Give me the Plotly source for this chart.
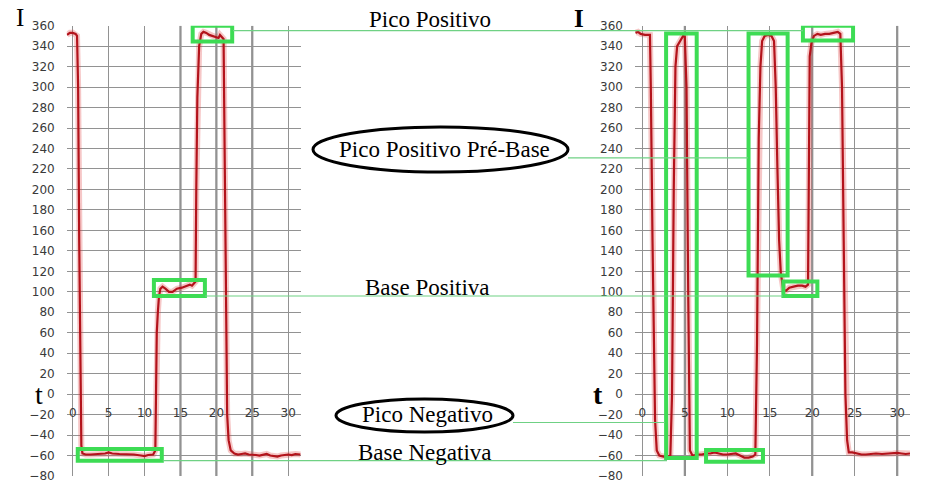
import plotly.graph_objects as go

W, H = 926, 485

# ---------------- data ----------------
left_t = [-0.8, -0.4, 0.0, 0.4, 0.6, 0.75, 0.9, 1.05, 1.2, 1.35, 1.8, 2.5, 3.5, 4.5, 5.0, 5.5, 6.5,
          7.5, 8.5, 9.5, 10.0, 10.5, 11.2, 11.5, 11.6, 11.7, 11.85, 12.0, 12.2, 12.5, 12.9, 13.4,
          13.9, 14.5, 15.2, 15.8, 16.3, 16.6, 16.9, 17.1, 17.2, 17.35, 17.6, 17.9, 18.2, 18.6, 19.0,
          19.5, 20.0, 20.3, 20.5, 20.8, 21.0, 21.2, 21.35, 21.5, 21.7, 22.0, 22.5, 23.0, 23.5, 24.0,
          24.5, 25.0, 25.5, 26.0, 26.5, 27.0, 27.5, 28.0, 28.5, 29.0, 29.5, 30.0, 30.5, 31.0, 31.7]
left_i = [351, 353, 353, 352, 350, 300, 150, 0, -50, -58, -59, -59, -58.5, -58, -57, -58, -58.5,
          -58.5, -59, -60, -60.5, -59.5, -59, -55, 0, 60, 80, 95, 103, 105, 103, 100,
          100, 103, 104, 106, 107, 106, 109, 110, 200, 290, 340, 352, 354, 353, 351,
          350, 349, 348, 351, 349, 347, 200, 50, -20, -45, -55, -58, -59, -58.5, -58,
          -59, -59, -59.5, -60, -59, -58.5, -60, -60.5, -61, -60, -59.5, -59, -59.5, -58.5, -59]

right_t = [-0.8, -0.5, -0.2, 0.3, 0.9, 1.0, 1.2, 1.4, 1.5, 1.7, 2.0, 2.5, 3.0, 3.3, 3.5, 3.7, 3.9,
           4.1, 4.5, 4.8, 5.0, 5.2, 5.4, 5.5, 5.6, 5.9, 6.5, 7.0, 7.5, 8.0, 8.5, 9.0, 9.5, 10.0,
           10.5, 11.0, 11.5, 12.0, 12.5, 13.0, 13.3, 13.5, 13.7, 13.9, 14.1, 14.4, 14.8, 15.2,
           15.5, 15.7, 15.9, 16.1, 16.3, 16.6, 16.9, 17.3, 17.8, 18.3, 18.8, 19.2, 19.5, 19.6,
           19.7, 19.9, 20.2, 20.6, 21.0, 21.5, 22.0, 22.5, 23.0, 23.3, 23.5, 23.7, 23.9, 24.1,
           24.3, 24.7, 25.2, 25.8, 26.3, 26.8, 27.5, 28.2, 28.8, 29.5, 30.0, 30.5, 31.0, 31.5]
right_i = [353, 354, 352, 351, 351, 300, 150, 0, -25, -55, -60, -61, -61, -60, 0, 200, 320,
           340, 346, 350, 349, 300, 100, -20, -55, -60, -59, -59, -58, -58, -57, -58, -59, -59,
           -58.5, -58, -60, -62, -62, -61, -59, 50, 250, 320, 345, 350, 351, 350,
           345, 300, 220, 150, 118, 102, 101, 104, 105, 106, 106, 105, 107, 200,
           330, 343, 350, 352, 351, 352, 352, 353, 354, 352, 300, 150, 0, -45,
           -57, -57, -58, -59, -59, -58.5, -58, -58.5, -58, -58, -57.5, -58, -58.5, -58]

x_ticks = [0, 5, 10, 15, 20, 25, 30]
y_ticks = list(range(-80, 361, 20))

# green boxes: (x0, x1, y0, y1) in data units
left_boxes = [(16.7, 22.2, 344.5, 360), (11.3, 18.4, 96, 111.5), (0.7, 12.4, -65, -53.5)]
right_boxes = [(18.9, 24.8, 345.5, 360), (2.8, 6.4, -62.5, 352.5), (12.5, 17.1, 116, 352.5),
               (16.6, 20.6, 96, 110), (7.5, 14.2, -66, -54.5)]

labels = ["Pico Positivo", "Pico Positivo Pré-Base", "Base Positiva", "Pico Negativo", "Base Negativa"]
label_levels = [355.2, 230.8, 95.9, -27.7, -65.0]

# darker grid lines seen in the reference
left_dark = [15, 20, 25]
right_dark = [5, 20, 30]

# ---------------- layout geometry ----------------
def px(x):
    return x / W

def py(y):
    return (H - y) / H

ydom = [py(476), py(25.7)]
LX = [66.7, 301]
RX = [635, 910]
lrange = [-0.84, 31.78]
rrange = [-0.86, 31.5]
y_range = [-80, 360]
zero_pos = py(394.2)

fig = go.Figure()

halo = 'rgba(225,70,70,0.30)'
core = '#b3131b'
for t, i, xa, ya in [(left_t, left_i, 'x', 'y'), (right_t, right_i, 'x2', 'y2')]:
    fig.add_trace(go.Scatter(x=t, y=i, mode='lines', line=dict(color=halo, width=6),
                             xaxis=xa, yaxis=ya, hoverinfo='skip', showlegend=False))
    fig.add_trace(go.Scatter(x=t, y=i, mode='lines', line=dict(color=core, width=2.2),
                             xaxis=xa, yaxis=ya, showlegend=False))

tickfont = dict(family='DejaVu Sans', size=12, color='#3a3a3a')
grid = dict(showgrid=True, gridcolor='#929292', gridwidth=1.3, zeroline=False,
            showline=False, tickfont=tickfont, ticks='', fixedrange=True, automargin=False)

fig.update_layout(
    width=W, height=H, margin=dict(l=0, r=0, t=0, b=0, pad=0, autoexpand=False),
    paper_bgcolor='white', plot_bgcolor='white', showlegend=False,
    xaxis=dict(domain=[px(LX[0]), px(LX[1])], range=lrange, tickvals=x_ticks,
               anchor='free', position=zero_pos, ticklabelstandoff=10, **grid),
    yaxis=dict(domain=ydom, range=y_range, tickvals=y_ticks, anchor='x',
               ticklabelstandoff=11, **grid),
    xaxis2=dict(domain=[px(RX[0]), px(RX[1])], range=rrange, tickvals=x_ticks,
                anchor='free', position=zero_pos, ticklabelstandoff=10, **grid),
    yaxis2=dict(domain=ydom, range=y_range, tickvals=y_ticks, anchor='x2',
                ticklabelstandoff=11, **grid),
)

shapes = []
for xv in left_dark:
    shapes.append(dict(type='line', xref='x', yref='y', x0=xv, x1=xv, y0=-80, y1=360,
                       line=dict(color='#737373', width=2), layer='below'))
for xv in right_dark:
    shapes.append(dict(type='line', xref='x2', yref='y2', x0=xv, x1=xv, y0=-80, y1=360,
                       line=dict(color='#737373', width=2), layer='below'))

green = '#3ddc54'
for (x0, x1, y0, y1) in left_boxes:
    shapes.append(dict(type='rect', xref='x', yref='y', x0=x0, x1=x1, y0=y0, y1=y1,
                       line=dict(color=green, width=4), layer='above'))
for (x0, x1, y0, y1) in right_boxes:
    shapes.append(dict(type='rect', xref='x2', yref='y2', x0=x0, x1=x1, y0=y0, y1=y1,
                       line=dict(color=green, width=4), layer='above'))

line_x = [(233, 803), (568, 748), (205, 783), (513, 665), (162.7, 667)]
for (a, b), lev in zip(line_x, label_levels):
    shapes.append(dict(type='line', xref='paper', yref='y', x0=px(a), x1=px(b), y0=lev, y1=lev,
                       line=dict(color='#6fd184', width=1.2), layer='above'))

for (x0, x1, y0, y1) in [(313, 568, 127, 172), (336, 513, 399, 432)]:
    shapes.append(dict(type='circle', xref='paper', yref='paper', x0=px(x0), x1=px(x1),
                       y0=py(y1), y1=py(y0), line=dict(color='black', width=3), layer='above'))

fig.update_layout(shapes=shapes)

serif = 'Liberation Serif'
label_pos = [(430, 20), (444, 149), (427, 287), (427, 414), (424, 452)]
ann = []
for txt, (x, y) in zip(labels, label_pos):
    ann.append(dict(text=txt, x=px(x), y=py(y), xref='paper', yref='paper', showarrow=False,
                    font=dict(family=serif, size=23, color='black'), xanchor='center', yanchor='middle'))

for txt, x, y, sz in [('I', 20, 18, 25), ('<b>I</b>', 579, 19, 25), ('t', 39, 394, 28), ('<b>t</b>', 598, 394, 28)]:
    ann.append(dict(text=txt, x=px(x), y=py(y), xref='paper', yref='paper', showarrow=False,
                    xanchor='center', yanchor='middle',
                    font=dict(family=serif, size=sz, color='black')))
fig.update_layout(annotations=ann)

fig.write_html('out.html')
